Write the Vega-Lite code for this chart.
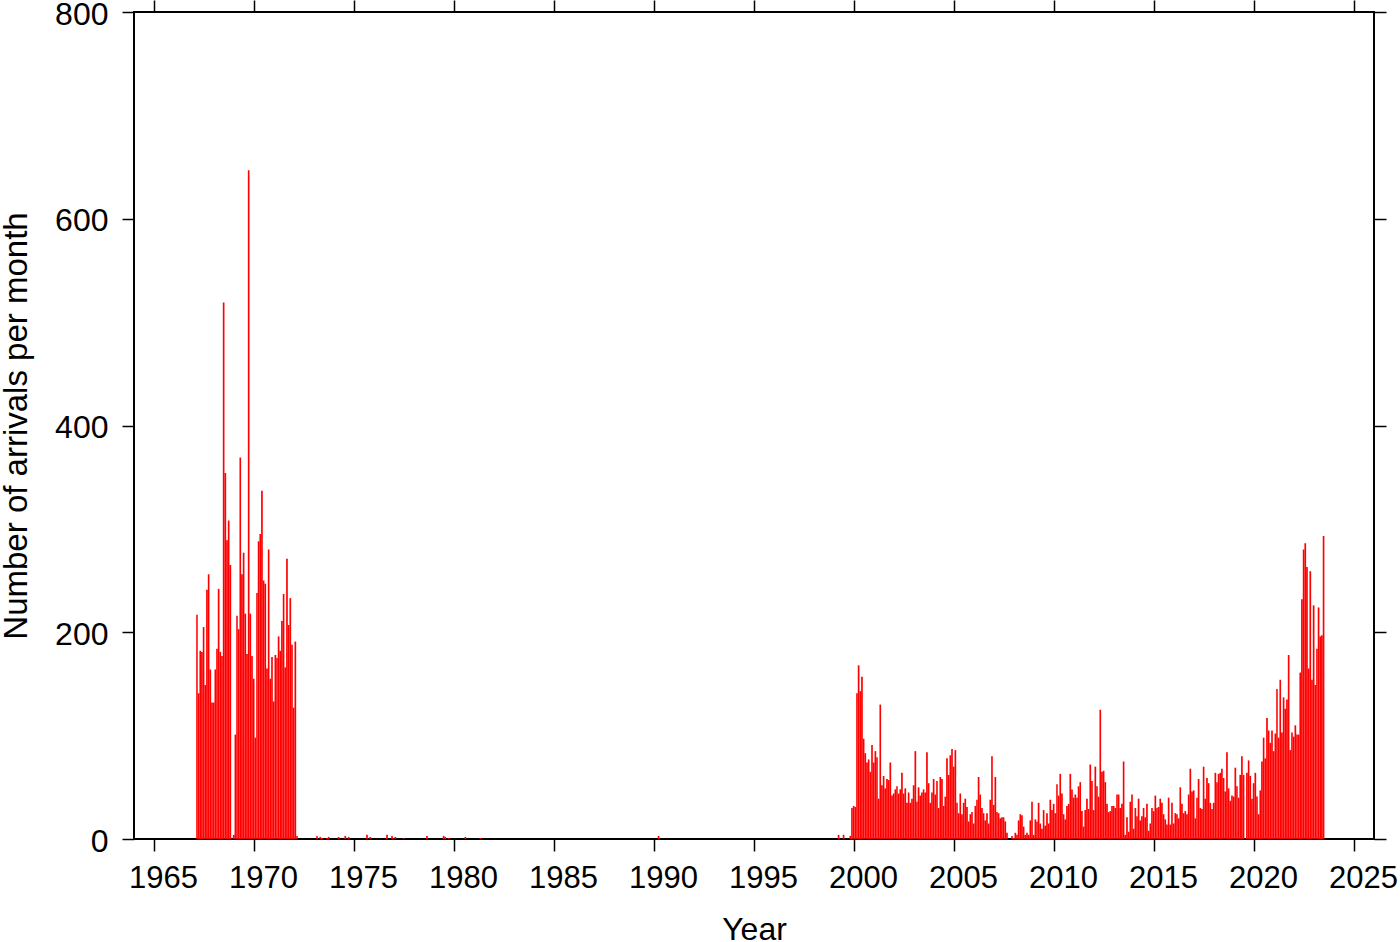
{
  "$schema": "https://vega.github.io/schema/vega-lite/v6.json",
  "width": 1240,
  "height": 827,
  "autosize": "none",
  "padding": {"left": 134, "top": 12, "right": 26, "bottom": 103},
  "background": "white",
  "config": {
    "view": {"stroke": "black", "strokeWidth": 2},
    "font": "Liberation Sans",
    "axis": {"labelColor": "black", "titleColor": "black", "tickColor": "black", "grid": false, "domain": false, "labelFont": "Liberation Sans", "titleFont": "Liberation Sans"}
  },
  "data": {"values": [
    {"d":"1967-02-01","n":217},{"d":"1967-03-01","n":141},{"d":"1967-04-01","n":182},{"d":"1967-05-01","n":181},{"d":"1967-06-01","n":205},{"d":"1967-07-01","n":149},{"d":"1967-08-01","n":241},{"d":"1967-09-01","n":256},{"d":"1967-10-01","n":164},{"d":"1967-11-01","n":132},{"d":"1967-12-01","n":132},
    {"d":"1968-01-01","n":164},{"d":"1968-02-01","n":184},{"d":"1968-03-01","n":242},{"d":"1968-04-01","n":181},{"d":"1968-05-01","n":177},{"d":"1968-06-01","n":519},{"d":"1968-07-01","n":354},{"d":"1968-08-01","n":289},{"d":"1968-09-01","n":308},{"d":"1968-10-01","n":265},{"d":"1968-12-01","n":4},
    {"d":"1969-01-01","n":101},{"d":"1969-02-01","n":216},{"d":"1969-03-01","n":203},{"d":"1969-04-01","n":369},{"d":"1969-05-01","n":256},{"d":"1969-06-01","n":277},{"d":"1969-07-01","n":218},{"d":"1969-08-01","n":179},{"d":"1969-09-01","n":647},{"d":"1969-10-01","n":218},{"d":"1969-11-01","n":177},{"d":"1969-12-01","n":155},
    {"d":"1970-01-01","n":98},{"d":"1970-02-01","n":238},{"d":"1970-03-01","n":288},{"d":"1970-04-01","n":295},{"d":"1970-05-01","n":337},{"d":"1970-06-01","n":250},{"d":"1970-07-01","n":247},{"d":"1970-08-01","n":165},{"d":"1970-09-01","n":280},{"d":"1970-10-01","n":155},{"d":"1970-11-01","n":176},{"d":"1970-12-01","n":133},
    {"d":"1971-01-01","n":178},{"d":"1971-02-01","n":175},{"d":"1971-03-01","n":196},{"d":"1971-04-01","n":182},{"d":"1971-05-01","n":211},{"d":"1971-06-01","n":237},{"d":"1971-07-01","n":166},{"d":"1971-08-01","n":271},{"d":"1971-09-01","n":207},{"d":"1971-10-01","n":233},{"d":"1971-11-01","n":188},{"d":"1971-12-01","n":127},
    {"d":"1972-01-01","n":191},{"d":"1972-02-01","n":3},
    {"d":"1973-02-01","n":3},{"d":"1973-04-01","n":2},{"d":"1973-05-01","n":1},{"d":"1973-08-01","n":1},{"d":"1973-09-01","n":2},{"d":"1974-03-01","n":2},{"d":"1974-07-01","n":3},{"d":"1974-09-01","n":2},{"d":"1975-08-01","n":4},{"d":"1975-10-01","n":2},{"d":"1976-08-01","n":4},{"d":"1976-11-01","n":3},{"d":"1977-01-01","n":2},{"d":"1977-06-01","n":1},{"d":"1978-08-01","n":3},{"d":"1979-06-01","n":3},{"d":"1979-07-01","n":2},{"d":"1979-09-01","n":1},{"d":"1980-07-01","n":2},{"d":"1981-04-01","n":1},{"d":"1990-03-01","n":3},
    {"d":"1999-03-01","n":4},{"d":"1999-06-01","n":4},{"d":"1999-10-01","n":3},{"d":"1999-11-01","n":30},{"d":"1999-12-01","n":32},
    {"d":"2000-01-01","n":31},{"d":"2000-02-01","n":141},{"d":"2000-03-01","n":168},{"d":"2000-04-01","n":143},{"d":"2000-05-01","n":157},{"d":"2000-06-01","n":97},{"d":"2000-07-01","n":83},{"d":"2000-08-01","n":74},{"d":"2000-09-01","n":77},{"d":"2000-10-01","n":65},{"d":"2000-11-01","n":91},{"d":"2000-12-01","n":74},
    {"d":"2001-01-01","n":85},{"d":"2001-02-01","n":79},{"d":"2001-03-01","n":39},{"d":"2001-04-01","n":130},{"d":"2001-05-01","n":52},{"d":"2001-06-01","n":61},{"d":"2001-07-01","n":49},{"d":"2001-08-01","n":58},{"d":"2001-09-01","n":57},{"d":"2001-10-01","n":74},{"d":"2001-11-01","n":42},{"d":"2001-12-01","n":44},
    {"d":"2002-01-01","n":48},{"d":"2002-02-01","n":51},{"d":"2002-03-01","n":44},{"d":"2002-04-01","n":48},{"d":"2002-05-01","n":64},{"d":"2002-06-01","n":44},{"d":"2002-07-01","n":49},{"d":"2002-08-01","n":35},{"d":"2002-09-01","n":45},{"d":"2002-10-01","n":35},{"d":"2002-11-01","n":39},{"d":"2002-12-01","n":52},
    {"d":"2003-01-01","n":85},{"d":"2003-02-01","n":36},{"d":"2003-03-01","n":50},{"d":"2003-04-01","n":42},{"d":"2003-05-01","n":45},{"d":"2003-06-01","n":48},{"d":"2003-07-01","n":45},{"d":"2003-08-01","n":84},{"d":"2003-09-01","n":54},{"d":"2003-10-01","n":35},{"d":"2003-11-01","n":45},{"d":"2003-12-01","n":58},
    {"d":"2004-01-01","n":43},{"d":"2004-02-01","n":56},{"d":"2004-03-01","n":30},{"d":"2004-04-01","n":60},{"d":"2004-05-01","n":58},{"d":"2004-06-01","n":32},{"d":"2004-07-01","n":41},{"d":"2004-08-01","n":78},{"d":"2004-09-01","n":62},{"d":"2004-10-01","n":81},{"d":"2004-11-01","n":87},{"d":"2004-12-01","n":70},
    {"d":"2005-01-01","n":86},{"d":"2005-02-01","n":35},{"d":"2005-03-01","n":25},{"d":"2005-04-01","n":44},{"d":"2005-05-01","n":24},{"d":"2005-06-01","n":35},{"d":"2005-07-01","n":39},{"d":"2005-08-01","n":31},{"d":"2005-09-01","n":17},{"d":"2005-10-01","n":24},{"d":"2005-11-01","n":26},{"d":"2005-12-01","n":15},
    {"d":"2006-01-01","n":32},{"d":"2006-02-01","n":38},{"d":"2006-03-01","n":60},{"d":"2006-04-01","n":43},{"d":"2006-05-01","n":30},{"d":"2006-06-01","n":25},{"d":"2006-07-01","n":18},{"d":"2006-08-01","n":25},{"d":"2006-09-01","n":15},{"d":"2006-10-01","n":38},{"d":"2006-11-01","n":80},{"d":"2006-12-01","n":33},
    {"d":"2007-01-01","n":60},{"d":"2007-02-01","n":26},{"d":"2007-03-01","n":25},{"d":"2007-04-01","n":20},{"d":"2007-05-01","n":21},{"d":"2007-06-01","n":21},{"d":"2007-07-01","n":17},{"d":"2007-08-01","n":6},{"d":"2007-11-01","n":3},{"d":"2007-12-01","n":1},
    {"d":"2008-01-01","n":6},{"d":"2008-02-01","n":4},{"d":"2008-03-01","n":18},{"d":"2008-04-01","n":24},{"d":"2008-05-01","n":23},{"d":"2008-06-01","n":12},{"d":"2008-07-01","n":4},{"d":"2008-08-01","n":6},{"d":"2008-09-01","n":4},{"d":"2008-10-01","n":18},{"d":"2008-11-01","n":36},{"d":"2008-12-01","n":4},
    {"d":"2009-01-01","n":19},{"d":"2009-02-01","n":17},{"d":"2009-03-01","n":35},{"d":"2009-04-01","n":15},{"d":"2009-05-01","n":10},{"d":"2009-06-01","n":28},{"d":"2009-07-01","n":13},{"d":"2009-08-01","n":25},{"d":"2009-09-01","n":15},{"d":"2009-10-01","n":38},{"d":"2009-11-01","n":28},{"d":"2009-12-01","n":34},
    {"d":"2010-01-01","n":25},{"d":"2010-02-01","n":53},{"d":"2010-03-01","n":42},{"d":"2010-04-01","n":63},{"d":"2010-05-01","n":44},{"d":"2010-06-01","n":24},{"d":"2010-07-01","n":19},{"d":"2010-08-01","n":32},{"d":"2010-09-01","n":34},{"d":"2010-10-01","n":63},{"d":"2010-11-01","n":48},{"d":"2010-12-01","n":40},
    {"d":"2011-01-01","n":43},{"d":"2011-02-01","n":40},{"d":"2011-03-01","n":51},{"d":"2011-04-01","n":55},{"d":"2011-05-01","n":27},{"d":"2011-06-01","n":12},{"d":"2011-07-01","n":28},{"d":"2011-08-01","n":39},{"d":"2011-09-01","n":29},{"d":"2011-10-01","n":72},{"d":"2011-11-01","n":56},{"d":"2011-12-01","n":28},
    {"d":"2012-01-01","n":70},{"d":"2012-02-01","n":51},{"d":"2012-03-01","n":41},{"d":"2012-04-01","n":125},{"d":"2012-05-01","n":65},{"d":"2012-06-01","n":66},{"d":"2012-07-01","n":55},{"d":"2012-08-01","n":34},{"d":"2012-09-01","n":26},{"d":"2012-10-01","n":27},{"d":"2012-11-01","n":32},{"d":"2012-12-01","n":32},
    {"d":"2013-01-01","n":30},{"d":"2013-02-01","n":43},{"d":"2013-03-01","n":43},{"d":"2013-04-01","n":30},{"d":"2013-05-01","n":34},{"d":"2013-06-01","n":75},{"d":"2013-07-01","n":4},{"d":"2013-08-01","n":21},{"d":"2013-09-01","n":7},{"d":"2013-10-01","n":36},{"d":"2013-11-01","n":43},{"d":"2013-12-01","n":10},
    {"d":"2014-01-01","n":30},{"d":"2014-02-01","n":22},{"d":"2014-03-01","n":39},{"d":"2014-04-01","n":18},{"d":"2014-05-01","n":22},{"d":"2014-06-01","n":30},{"d":"2014-07-01","n":21},{"d":"2014-08-01","n":34},{"d":"2014-09-01","n":8},{"d":"2014-10-01","n":15},{"d":"2014-11-01","n":30},{"d":"2014-12-01","n":27},
    {"d":"2015-01-01","n":42},{"d":"2015-02-01","n":30},{"d":"2015-03-01","n":31},{"d":"2015-04-01","n":39},{"d":"2015-05-01","n":35},{"d":"2015-06-01","n":24},{"d":"2015-07-01","n":19},{"d":"2015-08-01","n":14},{"d":"2015-09-01","n":40},{"d":"2015-10-01","n":14},{"d":"2015-11-01","n":35},{"d":"2015-12-01","n":15},
    {"d":"2016-01-01","n":25},{"d":"2016-02-01","n":24},{"d":"2016-03-01","n":20},{"d":"2016-04-01","n":50},{"d":"2016-05-01","n":34},{"d":"2016-06-01","n":25},{"d":"2016-07-01","n":27},{"d":"2016-08-01","n":24},{"d":"2016-09-01","n":43},{"d":"2016-10-01","n":68},{"d":"2016-11-01","n":46},{"d":"2016-12-01","n":47},
    {"d":"2017-01-01","n":20},{"d":"2017-02-01","n":40},{"d":"2017-03-01","n":58},{"d":"2017-04-01","n":30},{"d":"2017-05-01","n":29},{"d":"2017-06-01","n":70},{"d":"2017-07-01","n":39},{"d":"2017-08-01","n":59},{"d":"2017-09-01","n":54},{"d":"2017-10-01","n":35},{"d":"2017-11-01","n":29},{"d":"2017-12-01","n":35},
    {"d":"2018-01-01","n":64},{"d":"2018-02-01","n":55},{"d":"2018-03-01","n":63},{"d":"2018-04-01","n":64},{"d":"2018-05-01","n":68},{"d":"2018-06-01","n":59},{"d":"2018-07-01","n":46},{"d":"2018-08-01","n":84},{"d":"2018-09-01","n":49},{"d":"2018-10-01","n":37},{"d":"2018-11-01","n":42},{"d":"2018-12-01","n":41},
    {"d":"2019-01-01","n":69},{"d":"2019-02-01","n":51},{"d":"2019-03-01","n":40},{"d":"2019-04-01","n":62},{"d":"2019-05-01","n":80},{"d":"2019-06-01","n":62},{"d":"2019-08-01","n":64},{"d":"2019-09-01","n":76},{"d":"2019-10-01","n":61},{"d":"2019-11-01","n":39},{"d":"2019-12-01","n":54},
    {"d":"2020-01-01","n":64},{"d":"2020-02-01","n":41},{"d":"2020-03-01","n":24},{"d":"2020-04-01","n":47},{"d":"2020-05-01","n":75},{"d":"2020-06-01","n":98},{"d":"2020-07-01","n":78},{"d":"2020-08-01","n":117},{"d":"2020-09-01","n":105},{"d":"2020-10-01","n":93},{"d":"2020-11-01","n":105},{"d":"2020-12-01","n":85},
    {"d":"2021-01-01","n":102},{"d":"2021-02-01","n":145},{"d":"2021-03-01","n":98},{"d":"2021-04-01","n":154},{"d":"2021-05-01","n":103},{"d":"2021-06-01","n":137},{"d":"2021-07-01","n":126},{"d":"2021-08-01","n":135},{"d":"2021-09-01","n":178},{"d":"2021-10-01","n":86},{"d":"2021-11-01","n":103},{"d":"2021-12-01","n":99},
    {"d":"2022-01-01","n":110},{"d":"2022-02-01","n":101},{"d":"2022-03-01","n":101},{"d":"2022-04-01","n":161},{"d":"2022-05-01","n":232},{"d":"2022-06-01","n":280},{"d":"2022-07-01","n":286},{"d":"2022-08-01","n":263},{"d":"2022-09-01","n":165},{"d":"2022-10-01","n":259},{"d":"2022-11-01","n":154},{"d":"2022-12-01","n":226},
    {"d":"2023-01-01","n":149},{"d":"2023-02-01","n":184},{"d":"2023-03-01","n":224},{"d":"2023-04-01","n":196},{"d":"2023-05-01","n":197},{"d":"2023-06-01","n":293}
  ]},
  "layer": [
    {
      "mark": {"type": "bar", "fill": "#ff0000", "binSpacing": 0},
      "encoding": {
        "x": {
          "field": "d", "timeUnit": "utcyearmonth", "type": "temporal",
          "scale": {"domain": [{"year": 1964, "month": 1, "date": 1, "utc": true}, {"year": 2026, "month": 1, "date": 1, "utc": true}]},
          "axis": {
            "orient": "bottom",
            "values": [{"year":1965,"month":1,"date":1,"utc":true},{"year":1970,"month":1,"date":1,"utc":true},{"year":1975,"month":1,"date":1,"utc":true},{"year":1980,"month":1,"date":1,"utc":true},{"year":1985,"month":1,"date":1,"utc":true},{"year":1990,"month":1,"date":1,"utc":true},{"year":1995,"month":1,"date":1,"utc":true},{"year":2000,"month":1,"date":1,"utc":true},{"year":2005,"month":1,"date":1,"utc":true},{"year":2010,"month":1,"date":1,"utc":true},{"year":2015,"month":1,"date":1,"utc":true},{"year":2020,"month":1,"date":1,"utc":true},{"year":2025,"month":1,"date":1,"utc":true}],
            "format": "%Y",
            "tickSize": 12, "tickWidth": 1.5,
            "labelFontSize": 31, "labelPadding": 12, "labelOffset": 9, "labelFlush": false, "labelOverlap": false,
            "title": "Year", "titleFontSize": 32, "titleFontWeight": "normal",
            "titleBaseline": "alphabetic", "titleY": 100
          }
        },
        "y": {
          "field": "n", "type": "quantitative",
          "scale": {"domain": [0, 800], "nice": false},
          "axis": {
            "orient": "left",
            "values": [0, 200, 400, 600, 800],
            "tickSize": 12, "tickWidth": 1.5,
            "labelFontSize": 32, "labelPadding": 14, "labelOffset": 2, "labelFlush": false,
            "title": "Number of arrivals per month", "titleFontSize": 33, "titleFontWeight": "normal",
            "titleAngle": -90, "titleBaseline": "alphabetic", "titleX": -108, "titleY": 413.5
          }
        }
      }
    },
    {
      "mark": {"type": "bar", "opacity": 0},
      "encoding": {
        "x": {
          "field": "d", "timeUnit": "utcyearmonth", "type": "temporal",
          "axis": {
            "orient": "top",
            "values": [{"year":1965,"month":1,"date":1,"utc":true},{"year":1970,"month":1,"date":1,"utc":true},{"year":1975,"month":1,"date":1,"utc":true},{"year":1980,"month":1,"date":1,"utc":true},{"year":1985,"month":1,"date":1,"utc":true},{"year":1990,"month":1,"date":1,"utc":true},{"year":1995,"month":1,"date":1,"utc":true},{"year":2000,"month":1,"date":1,"utc":true},{"year":2005,"month":1,"date":1,"utc":true},{"year":2010,"month":1,"date":1,"utc":true},{"year":2015,"month":1,"date":1,"utc":true},{"year":2020,"month":1,"date":1,"utc":true},{"year":2025,"month":1,"date":1,"utc":true}],
            "labels": false, "tickSize": 12, "tickWidth": 1.5, "title": null
          }
        },
        "y": {
          "field": "n", "type": "quantitative",
          "axis": {"orient": "right", "values": [0, 200, 400, 600, 800], "labels": false, "tickSize": 12, "tickWidth": 1.5, "title": null}
        }
      }
    }
  ],
  "resolve": {"axis": {"x": "independent", "y": "independent"}}
}
